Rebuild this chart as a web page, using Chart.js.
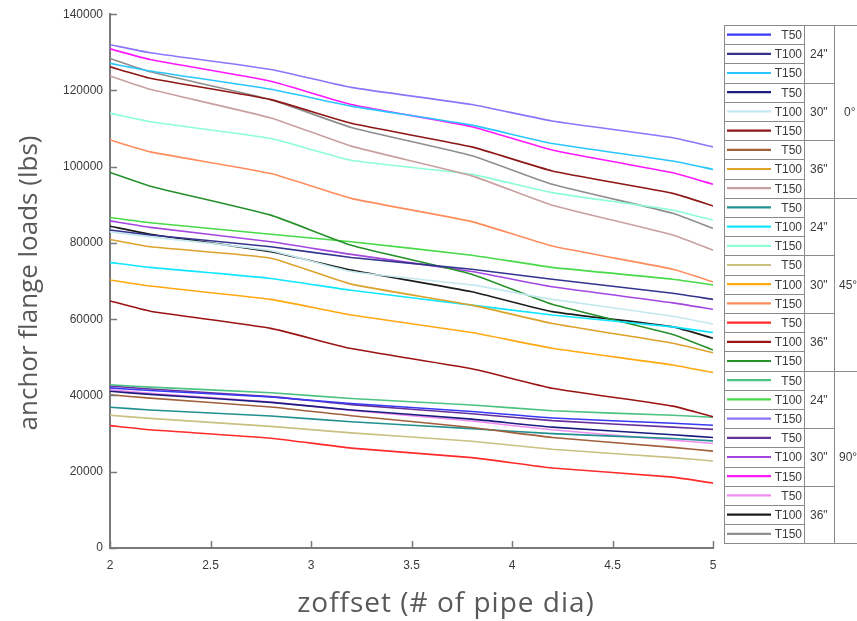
<!DOCTYPE html>
<html>
<head>
<meta charset="utf-8">
<script src="https://cdn.jsdelivr.net/npm/chart.js@4.4.1/dist/chart.umd.min.js"></script>
<style>
  html, body { margin: 0; padding: 0; background: #fff; }
  #wrap { position: relative; width: 857px; height: 621px; }
</style>
</head>
<body>
<div id="wrap"><canvas id="loadChart"></canvas></div>
<script>
// offset positions (# of pipe dia)
var zoffset = [2, 2.2, 2.8, 3.2, 3.8, 4.2, 4.8, 5];

var angles = ['0°', '45°', '90°'];
var diameters = ['24"', '30"', '36"'];
var temps = ['T50', 'T100', 'T150'];

// anchor flange loads (lbs), angle / diameter / temperature
var a0_d24_t50  = [42000, 41300, 39600, 37900, 35800, 34100, 32700, 32200];
var a0_d24_t100 = [83400, 82100, 79000, 76200, 73100, 70500, 66800, 65200];
var a0_d24_t150 = [127100, 125100, 120300, 115900, 110900, 106100, 101500, 99300];
var a0_d30_t50  = [41100, 40300, 38200, 36200, 33800, 31700, 29700, 29000];
var a0_d30_t100 = [82900, 81600, 78000, 72500, 69000, 65200, 60800, 58700];
var a0_d30_t150 = [126200, 123200, 117600, 111400, 105200, 98900, 93000, 89700];
var a0_d36_t50  = [40200, 39300, 37000, 34700, 31600, 29000, 26400, 25400];
var a0_d36_t100 = [80900, 79000, 76000, 69200, 63700, 58900, 53700, 51200];
var a0_d36_t150 = [123800, 120300, 112800, 105400, 97600, 89900, 82100, 78100];

var a45_d24_t50  = [36900, 36200, 34600, 33100, 31300, 30000, 28700, 28100];
var a45_d24_t100 = [74900, 73600, 70700, 67600, 63700, 61100, 58000, 56500];
var a45_d24_t150 = [114000, 111800, 107400, 101700, 98000, 93200, 88600, 86000];
var a45_d30_t50  = [34800, 34000, 31900, 30200, 28000, 25900, 23700, 22800];
var a45_d30_t100 = [70300, 68700, 65200, 61100, 56500, 52400, 48000, 46000];
var a45_d30_t150 = [107000, 103900, 98200, 91700, 85600, 79200, 73100, 69800];
var a45_d36_t50  = [32100, 31000, 28800, 26200, 23700, 21000, 18600, 17000];
var a45_d36_t100 = [64800, 62100, 57600, 52300, 47000, 41900, 37200, 34400];
var a45_d36_t150 = [98500, 94900, 87300, 79400, 71800, 63900, 56000, 51900];

var a90_d24_t50  = [42800, 42200, 40700, 39200, 37500, 36000, 34800, 34300];
var a90_d24_t100 = [86700, 85300, 82300, 80300, 76800, 73600, 70500, 69000];
var a90_d24_t150 = [132000, 129900, 125500, 120800, 116300, 112000, 107600, 105200];
var a90_d30_t50  = [42500, 41700, 39700, 37600, 35200, 33400, 31700, 31100];
var a90_d30_t100 = [85800, 84100, 80300, 77000, 72500, 68500, 64300, 62600];
var a90_d30_t150 = [130900, 128100, 122400, 116300, 110500, 104400, 98400, 95400];
var a90_d36_t50  = [41500, 40600, 38300, 36100, 33300, 31000, 28300, 27400];
var a90_d36_t100 = [84400, 82300, 77700, 72900, 67200, 62000, 58000, 55000];
var a90_d36_t150 = [128400, 124900, 117600, 110300, 102900, 95400, 87800, 83800];

var seriesList = [
    a0_d24_t50, a0_d24_t100, a0_d24_t150,
    a0_d30_t50, a0_d30_t100, a0_d30_t150,
    a0_d36_t50, a0_d36_t100, a0_d36_t150,
    a45_d24_t50, a45_d24_t100, a45_d24_t150,
    a45_d30_t50, a45_d30_t100, a45_d30_t150,
    a45_d36_t50, a45_d36_t100, a45_d36_t150,
    a90_d24_t50, a90_d24_t100, a90_d24_t150,
    a90_d30_t50, a90_d30_t100, a90_d30_t150,
    a90_d36_t50, a90_d36_t100, a90_d36_t150
];

var lineColors = [
    '#3838f5', '#34348f', '#2cc6ff',
    '#1c1c80', '#c4e8f0', '#8e1616',
    '#a0603c', '#dca22c', '#c9a0a0',
    '#239090', '#10e6ff', '#8cffd2',
    '#c9c082', '#ffa812', '#ff8c5c',
    '#ff2a2a', '#9a1414', '#26902a',
    '#4cc283', '#48da48', '#8877fa',
    '#66309c', '#a446e0', '#ff18ff',
    '#f08ef0', '#1c1c1c', '#8e8e8e'
];

var datasets = [];
for (var i = 0; i < seriesList.length; i++) {
    var pts = [];
    for (var j = 0; j < zoffset.length; j++) {
        pts.push({ x: zoffset[j], y: seriesList[i][j] });
    }
    datasets.push({
        label: angles[Math.floor(i / 9)] + ' ' + diameters[Math.floor(i / 3) % 3] + ' ' + temps[i % 3],
        tLabel: temps[i % 3],
        data: pts,
        borderColor: lineColors[i],
        backgroundColor: lineColors[i],
        borderWidth: 1.6,
        pointRadius: 0,
        tension: 0.15,
        fill: false
    });
}

// inward tick marks, axis titles and the table legend on the right
var extras = {
    id: 'extras',
    afterDraw: function (chart) {
        var ctx = chart.ctx;
        var area = chart.chartArea;
        var xs = chart.scales.x, ys = chart.scales.y;
        ctx.save();
        ctx.strokeStyle = '#7a7a7a';
        ctx.lineWidth = 1.5;
        ys.ticks.forEach(function (t) {
            var py = Math.round(ys.getPixelForValue(t.value)) + 0.5;
            ctx.beginPath(); ctx.moveTo(area.left, py); ctx.lineTo(area.left + 7, py); ctx.stroke();
        });
        xs.ticks.forEach(function (t) {
            var px = Math.round(xs.getPixelForValue(t.value)) + 0.5;
            ctx.beginPath(); ctx.moveTo(px, area.bottom); ctx.lineTo(px, area.bottom - 7); ctx.stroke();
        });

        // axis titles
        ctx.fillStyle = '#595959';
        ctx.textAlign = 'center';
        ctx.textBaseline = 'middle';
        ctx.font = '28px "Open Sans"';
        ctx.letterSpacing = '1px';
        ctx.fillText('zoffset (# of pipe dia)', 446, 604);
        ctx.letterSpacing = '0px';
        ctx.font = '26px "Open Sans"';
        ctx.save();
        ctx.translate(30, 283);
        ctx.rotate(-Math.PI / 2);
        ctx.fillText('anchor flange loads (lbs)', 0, 0);
        ctx.restore();

        // legend table
        var left = 724, top = 25, rowH = 19.2, col1 = 804, col2 = 834, right = 857;
        var n = chart.data.datasets.length;
        var bottom = top + n * rowH;
        ctx.fillStyle = '#fff';
        ctx.fillRect(left, top, right - left, bottom - top);
        ctx.strokeStyle = '#8a8a8a';
        ctx.lineWidth = 1;
        for (var r = 0; r <= n; r++) {
            var ly = Math.round(top + r * rowH) + 0.5;
            var endX = col1;
            if (r % 3 === 0) endX = col2;
            if (r % 9 === 0) endX = right;
            ctx.beginPath(); ctx.moveTo(left, ly); ctx.lineTo(endX, ly); ctx.stroke();
        }
        [left, col1, col2].forEach(function (vx) {
            ctx.beginPath(); ctx.moveTo(vx + 0.5, top); ctx.lineTo(vx + 0.5, bottom); ctx.stroke();
        });

        ctx.font = '12px "Liberation Sans"';
        ctx.textBaseline = 'middle';
        chart.data.datasets.forEach(function (ds, k) {
            var cy = top + k * rowH + rowH / 2;
            ctx.strokeStyle = ds.borderColor;
            ctx.lineWidth = 2.2;
            ctx.beginPath(); ctx.moveTo(727, cy); ctx.lineTo(771, cy); ctx.stroke();
            ctx.fillStyle = '#3a3a3a';
            ctx.textAlign = 'right';
            ctx.fillText(ds.tLabel, 802, cy + 1);
        });
        ctx.textAlign = 'left';
        for (var g = 0; g < n / 3; g++) {
            ctx.fillText(diameters[g % 3], 810, top + (g * 3 + 1.5) * rowH + 1);
        }
        for (var a = 0; a < angles.length; a++) {
            ctx.fillText(angles[a], a === 0 ? 844 : 839, top + (a * 9 + 4.5) * rowH + 1);
        }
        ctx.restore();
    }
};

var ctx1 = document.getElementById('loadChart').getContext('2d');
var loadChart = new Chart(ctx1, {
    type: 'line',
    data: { datasets: datasets },
    options: {
        responsive: true,
        maintainAspectRatio: false,
        animation: false,
        layout: { padding: { top: 14, right: 144, left: 0, bottom: 0 } },
        plugins: {
            legend: { display: false },
            tooltip: { enabled: false }
        },
        scales: {
            x: {
                type: 'linear',
                min: 2,
                max: 5,
                ticks: {
                    stepSize: 0.5, color: '#3a3a3a', padding: 10,
                    font: { family: 'Liberation Sans', size: 12 },
                    callback: function (v) { return String(v); }
                },
                grid: { display: false, drawTicks: false },
                border: { display: true, color: '#7a7a7a', width: 2 },
                afterFit: function (s) { s.height = 73; }
            },
            y: {
                min: 0,
                max: 140000,
                ticks: {
                    stepSize: 20000, color: '#3a3a3a', padding: 7,
                    font: { family: 'Liberation Sans', size: 12 },
                    callback: function (v) { return String(v); }
                },
                grid: { display: false, drawTicks: false },
                border: { display: true, color: '#7a7a7a', width: 2 },
                afterFit: function (s) { s.width = 110; }
            }
        }
    },
    plugins: [extras]
});
</script>
</body>
</html>
